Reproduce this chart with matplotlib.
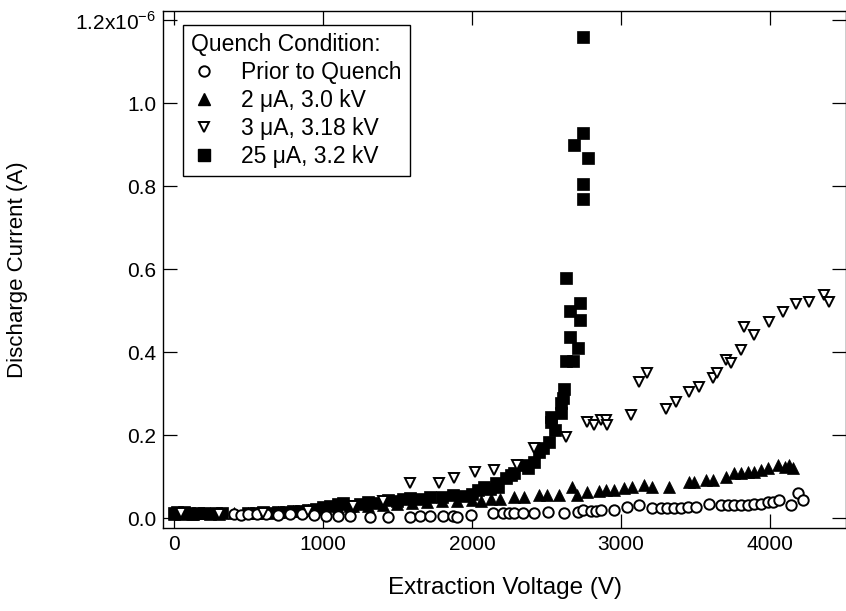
import numpy as np
import matplotlib.pyplot as plt
from matplotlib.lines import Line2D

# currents are in units of 1e-6 A
# Prior to Quench (open circles)
prior_v = [400, 450, 500, 560, 620, 700, 780, 860, 940, 1020, 1100, 1184, 1318, 1439, 1587,
           1654, 1722, 1809, 1870, 1903, 1991, 2145, 2212, 2246, 2280, 2340, 2414, 2508, 2616,
           2710, 2744, 2797, 2831, 2865, 2954, 3044, 3123, 3212, 3268, 3313, 3358, 3403, 3448,
           3504, 3593, 3672, 3717, 3761, 3806, 3851, 3896, 3941, 3986, 4020, 4064, 4143, 4187, 4221]
prior_i = [0.010, 0.008, 0.010, 0.009, 0.010, 0.008, 0.010, 0.009, 0.008, 0.006, 0.005, 0.004, 0.003,
           0.003, 0.003, 0.004, 0.005, 0.006, 0.004, 0.003, 0.008, 0.011, 0.012, 0.011, 0.012, 0.011,
           0.012, 0.014, 0.013, 0.015, 0.019, 0.016, 0.018, 0.019, 0.019, 0.027, 0.031, 0.023, 0.023,
           0.023, 0.023, 0.023, 0.027, 0.027, 0.035, 0.031, 0.031, 0.031, 0.031, 0.031, 0.035, 0.035,
           0.039, 0.039, 0.043, 0.031, 0.060, 0.043]

# 2 uA, 3.0 kV (filled triangles)
q2_v = [0, 60, 120, 200, 300, 400, 500, 600, 700, 800, 900, 1000, 1100, 1200, 1300, 1400, 1500,
        1600, 1700, 1800, 1900, 2000, 2060, 2125, 2192, 2282, 2349, 2450, 2506, 2585, 2674, 2708,
        2775, 2854, 2898, 2954, 3022, 3078, 3156, 3212, 3324, 3459, 3492, 3571, 3616, 3705, 3761,
        3806, 3851, 3896, 3941, 3986, 4053, 4100, 4131, 4154]
q2_i = [0.010, 0.012, 0.010, 0.011, 0.010, 0.011, 0.012, 0.013, 0.015, 0.017, 0.020, 0.022, 0.025,
        0.028, 0.030, 0.032, 0.034, 0.036, 0.038, 0.040, 0.042, 0.044, 0.040, 0.047, 0.047, 0.051,
        0.051, 0.055, 0.055, 0.055, 0.075, 0.055, 0.062, 0.064, 0.067, 0.067, 0.072, 0.075, 0.080,
        0.075, 0.075, 0.087, 0.087, 0.092, 0.092, 0.100, 0.108, 0.108, 0.112, 0.112, 0.116, 0.120,
        0.128, 0.122, 0.128, 0.120]

# 3 uA, 3.18 kV (open triangles)
q3_v = [50, 300, 600, 900, 1200, 1400, 1587, 1777, 1878, 2024, 2148, 2305, 2416, 2629, 2775, 2820,
        2865, 2898, 2910, 3067, 3123, 3179, 3302, 3369, 3459, 3526, 3616, 3649, 3705, 3739, 3806,
        3829, 3896, 3997, 4087, 4176, 4266, 4366, 4400]
q3_i = [0.012, 0.010, 0.012, 0.018, 0.030, 0.040, 0.084, 0.084, 0.096, 0.112, 0.116, 0.128, 0.168,
        0.196, 0.232, 0.224, 0.236, 0.236, 0.224, 0.248, 0.328, 0.349, 0.264, 0.280, 0.304, 0.316,
        0.337, 0.349, 0.381, 0.373, 0.405, 0.461, 0.441, 0.473, 0.497, 0.517, 0.521, 0.537, 0.521]

# 25 uA, 3.2 kV (filled squares)
q25_v = [0, 20, 40, 70, 100, 130, 160, 200, 240, 280, 320, 500, 550, 600, 650, 700, 750, 800, 850,
         900, 950, 1000, 1050, 1100, 1137, 1184, 1250, 1305, 1370, 1439, 1500, 1540, 1587, 1650,
         1722, 1800, 1876, 1950, 2000, 2038, 2078, 2120, 2159, 2172, 2226, 2260, 2280, 2340, 2380,
         2414, 2448, 2480, 2515, 2529, 2529, 2560, 2596, 2596, 2609, 2616, 2629, 2677, 2710, 2656,
         2724, 2656, 2724, 2629, 2744, 2744, 2777, 2683, 2744, 2744]
q25_i = [0.012, 0.015, 0.010, 0.014, 0.012, 0.010, 0.013, 0.012, 0.010, 0.011, 0.012, 0.013, 0.012,
         0.014, 0.013, 0.015, 0.014, 0.016, 0.018, 0.020, 0.022, 0.027, 0.030, 0.033, 0.036, 0.030,
         0.034, 0.039, 0.036, 0.043, 0.040, 0.045, 0.048, 0.046, 0.051, 0.050, 0.055, 0.052, 0.058,
         0.067, 0.075, 0.070, 0.084, 0.075, 0.096, 0.104, 0.108, 0.128, 0.120, 0.135, 0.159, 0.170,
         0.183, 0.231, 0.243, 0.212, 0.253, 0.277, 0.289, 0.311, 0.378, 0.378, 0.410, 0.436, 0.477,
         0.499, 0.518, 0.578, 0.769, 0.805, 0.867, 0.899, 0.928, 1.159]

yticks = [0.0, 0.2, 0.4, 0.6, 0.8, 1.0, 1.2]
yticklabels = ['0.0', '0.2', '0.4', '0.6', '0.8', '1.0', r'1.2x10$^{\mathregular{-6}}$']
xticks = [0, 1000, 2000, 3000, 4000]

plt.rcParams['font.family'] = ['Liberation Sans', 'DejaVu Sans']
plt.rcParams['mathtext.fontset'] = 'custom'
plt.rcParams['mathtext.rm'] = 'Liberation Sans'

fig = plt.figure(figsize=(8.46, 6.11), dpi=100)
ax = fig.add_axes([163/846, 1-528/611, 1.0-163/846, (528-11)/611])

ax.plot(q25_v, q25_i, 's', color='black', ms=8.5, mew=0.5, zorder=2)
ax.plot(q2_v, q2_i, '^', color='black', ms=8.5, mew=0.5, zorder=3)
ax.plot(prior_v, prior_i, 'o', mfc='white', mec='black', ms=7.5, mew=1.4, zorder=4)
ax.plot(q3_v, q3_i, 'v', mfc='white', mec='black', ms=7.5, mew=1.4, zorder=5)

ax.set_xlim(-74, 4512)
ax.set_ylim(-0.024, 1.222)
ax.set_xticks(xticks)
ax.set_yticks(yticks)
ax.set_yticklabels(yticklabels)
ax.tick_params(direction='in', length=10, width=0.9, labelsize=15, top=True, right=True,
               pad=5)
for s in ax.spines.values():
    s.set_linewidth(1.0)

ax.set_xlabel('Extraction Voltage (V)', fontsize=17.5)
ax.set_ylabel('Discharge Current (A)', fontsize=16)
ax.xaxis.set_label_coords(0.5, -0.095)
ax.yaxis.set_label_coords(-0.197, 0.5)

handles = [
    Line2D([], [], ls='none', marker='o', mfc='white', mec='black', ms=7.5, mew=1.4),
    Line2D([], [], ls='none', marker='^', color='black', ms=8.5),
    Line2D([], [], ls='none', marker='v', mfc='white', mec='black', ms=7.5, mew=1.4),
    Line2D([], [], ls='none', marker='s', color='black', ms=8.5),
]
labels = ['Prior to Quench', '2 \u03bcA, 3.0 kV', '3 \u03bcA, 3.18 kV', '25 \u03bcA, 3.2 kV']
leg = fig.legend(handles, labels, title='Quench Condition:', loc='upper left',
                 bbox_to_anchor=(183/846, 1-25/611), fontsize=16.5, title_fontsize=16.5,
                 alignment='left', fancybox=False, framealpha=1, edgecolor='black',
                 handlelength=1.1, handletextpad=1.1, labelspacing=0.22, borderpad=0.35,
                 borderaxespad=0)
leg.get_frame().set_linewidth(1.0)

fig.savefig('out.png', dpi=100)
